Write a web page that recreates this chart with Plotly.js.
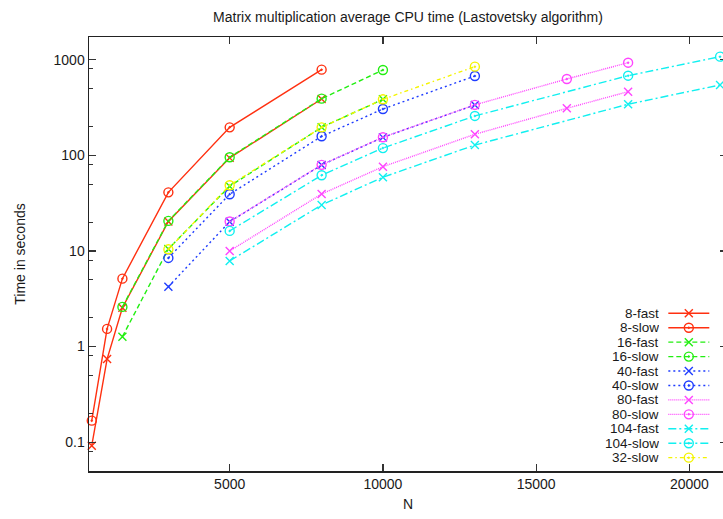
<!DOCTYPE html>
<html><head><meta charset="utf-8">
<script src="https://cdn.plot.ly/plotly-3.0.1.min.js"></script>
<style>html,body{margin:0;padding:0;overflow:hidden;background:#fff;} #chart{width:731px;height:519px;}</style>
</head><body><div id="chart"></div>
<script>
// ---- data ----
const seriesNames = ['8-fast','8-slow','16-fast','16-slow','40-fast','40-slow','80-fast','80-slow','104-fast','104-slow','32-slow'];
const N_8 = [500, 1000, 1500, 3000, 5000, 8000];
const fast8 = [0.092, 0.74, 2.55, 20.3, 94, 388];
const slow8 = [0.168, 1.53, 5.13, 41, 196, 786];
const N_16 = [1500, 3000, 5000, 8000, 10000];
const fast16 = [1.27, 10.5, 47.5, 196, 385];
const slow16 = [2.6, 20.6, 95.4, 391, 780];
const N_40 = [3000, 5000, 8000, 10000, 13000];
const fast40 = [4.23, 20.2, 79.3, 154, 336];
const slow40 = [8.45, 39.2, 158, 305, 675];
const N_80 = [5000, 8000, 10000, 13000, 16000, 18000];
const fast80 = [10.0, 39.4, 76, 166, 310, 463];
const slow80 = [20.3, 79.5, 154.5, 337, 628, 930];
const N_104 = [5000, 8000, 10000, 13000, 18000, 21000];
const fast104 = [7.86, 30.3, 59, 128, 342, 544];
const slow104 = [16.2, 61.8, 119, 258, 680, 1075];
const N_32 = [3000, 5000, 8000, 10000, 13000];
const slow32 = [10.4, 48.6, 196, 385, 845];

const xTickVals = [5000, 10000, 15000, 20000];
const xTickText = ['5000', '10000', '15000', '20000'];
const yTickVals = [0.1, 1, 10, 100, 1000];
const yTickText = ['0.1', '1', '10', '100', '1000'];
const yMinorVals = [0.05, 0.08, 0.2, 0.5, 0.8, 2, 5, 8, 20, 50, 80, 200, 500, 800];

// ---- styles ----
const xs = [N_8, N_8, N_16, N_16, N_40, N_40, N_80, N_80, N_104, N_104, N_32];
const ys = [fast8, slow8, fast16, slow16, fast40, slow40, fast80, slow80, fast104, slow104, slow32];
const colors = ['#ff3010','#ff3010','#22ee11','#22ee11','#1f3dff','#1f3dff','#ff44ff','#ff44ff','#11f0f0','#11f0f0','#f4f400'];
const dashes = ['solid','solid','5px,3px','5px,3px','2px,3px','2px,3px','1px,1px','1px,1px','8px,3px,2px,3px','8px,3px,2px,3px','4px,3px,1.5px,3px'];
const symbols = ['x-thin-open','circle-open-dot','x-thin-open','circle-open-dot','x-thin-open','circle-open-dot','x-thin-open','circle-open-dot','x-thin-open','circle-open-dot','circle-open-dot'];

const FONT = 'Liberation Sans, Arial, Helvetica, sans-serif';
const TXT = '#1a1a1a';

const traces = [];
for (let i = 0; i < seriesNames.length; i++) {
  const isX = symbols[i].startsWith('x');
  const mk = {symbol: symbols[i], size: isX ? 8 : 9, color: colors[i], line: {color: colors[i], width: 1.4}};
  traces.push({
    type: 'scatter', mode: 'lines+markers', name: seriesNames[i],
    x: xs[i], y: ys[i],
    line: {color: colors[i], width: 1.4, dash: dashes[i]},
    marker: mk, showlegend: false, cliponaxis: false
  });
}
// gnuplot-style key: text right-aligned, sample to the right
const annotations = [];
for (let i = 0; i < seriesNames.length; i++) {
  const isX = symbols[i].startsWith('x');
  traces.push({
    type: 'scatter', mode: 'lines+markers', xaxis: 'x2', yaxis: 'y3', showlegend: false, hoverinfo: 'skip',
    x: [0, 0.5, 1], y: [i + 1, i + 1, i + 1],
    line: {color: colors[i], width: 1.4, dash: dashes[i]},
    marker: {symbol: symbols[i], size: isX ? 8 : 9, color: colors[i], opacity: [0, 1, 0], line: {color: colors[i], width: 1.4}},
    cliponaxis: false
  });
  annotations.push({
    xref: 'paper', yref: 'y3', x: (659.5 - 89) / 638, y: i + 1, xanchor: 'right', yanchor: 'middle',
    height: 13, valign: 'middle', borderpad: 0,
    text: seriesNames[i], showarrow: false, font: {family: FONT, size: 13.5, color: TXT}
  });
}

const layout = {
  width: 731, height: 519,
  margin: {l: 89, r: 4, t: 37, b: 48},
  paper_bgcolor: '#ffffff', plot_bgcolor: 'rgba(0,0,0,0)',
  showlegend: false,
  title: {text: 'Matrix multiplication average CPU time (Lastovetsky algorithm)', x: (408 / 731), xanchor: 'center', y: 1 - 17 / 519, yanchor: 'middle', font: {family: FONT, size: 14, color: TXT}},
  xaxis: {
    range: [410, 21226], tickvals: xTickVals, ticktext: xTickText, ticks: 'inside', ticklen: 7, tickwidth: 1.2, tickcolor: '#333',
    showline: true, linecolor: '#222', linewidth: 1.5, mirror: 'ticks', showgrid: false, zeroline: false,
    tickfont: {family: FONT, size: 14, color: TXT},
    title: {text: 'N', font: {family: FONT, size: 14, color: TXT}, standoff: 8}
  },
  yaxis: {
    type: 'log', range: [Math.log10(0.05), 3.237], tickvals: yTickVals, ticktext: yTickText,
    ticks: 'inside', ticklen: 7, tickwidth: 1.2, tickcolor: '#333',
    minor: {tickmode: 'array', tickvals: yMinorVals, ticks: 'inside', ticklen: 4, tickwidth: 1, tickcolor: '#333', showgrid: false},
    showline: true, linecolor: '#222', linewidth: 1.5, mirror: 'ticks', showgrid: false, zeroline: false,
    tickfont: {family: FONT, size: 14, color: TXT},
    title: {text: 'Time in seconds', font: {family: FONT, size: 14, color: TXT}, standoff: 24}
  },
  xaxis2: {domain: [0.9016, 0.9787], range: [-0.1, 1.1], anchor: 'y3', visible: false, fixedrange: true},
  yaxis3: {domain: [0.0141, 0.38], range: [11.5, 0.5], anchor: 'x2', visible: false, fixedrange: true},
  annotations: annotations
};

Plotly.newPlot('chart', traces, layout, {staticPlot: true, displayModeBar: false});
</script></body></html>
